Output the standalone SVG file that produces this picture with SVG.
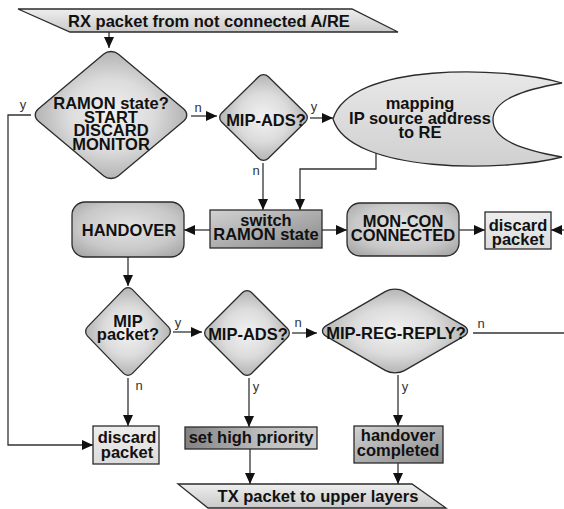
<svg xmlns="http://www.w3.org/2000/svg" width="564" height="509" viewBox="0 0 564 509">
  <style>
    .shape { stroke: #2b2b2b; stroke-width: 1.3; }
    .dia { stroke: #2b2b2b; stroke-width: 1.3; vector-effect: non-scaling-stroke; fill: url(#gDia); }
    .t { font-family: "Liberation Sans", Arial, sans-serif; font-weight: bold; font-size: 16.5px; fill: #111; text-anchor: middle; }
    .lbl { font-family: "Liberation Sans", Arial, sans-serif; font-size: 13px; fill: #333; text-anchor: middle; }
    .wire { fill: none; stroke: #333; stroke-width: 1.3; }
    .arr { marker-end: url(#ah); }
  </style>
  <defs>
    <marker id="ah" markerUnits="userSpaceOnUse" markerWidth="11" markerHeight="10" refX="11" refY="5" orient="auto">
      <path d="M0,0 L11,5 L0,10 z" fill="#111"/>
    </marker>
    <!-- diamonds: light centre fading to mid grey at the corners -->
    <radialGradient id="gDia" cx="0.5" cy="0.5" r="0.75">
      <stop offset="0" stop-color="#f2f2f2"/>
      <stop offset="0.5" stop-color="#dcdcdc"/>
      <stop offset="0.75" stop-color="#c2c2c2"/>
      <stop offset="1" stop-color="#acacac"/>
    </radialGradient>
    <linearGradient id="gBanner" x1="0" y1="0" x2="0" y2="1">
      <stop offset="0" stop-color="#eeeeee"/>
      <stop offset="1" stop-color="#c9c9c9"/>
    </linearGradient>
    <radialGradient id="gRound" cx="0.5" cy="0.45" r="0.72">
      <stop offset="0" stop-color="#e4e4e4"/>
      <stop offset="0.6" stop-color="#c8c8c8"/>
      <stop offset="1" stop-color="#a0a0a0"/>
    </radialGradient>
    <linearGradient id="gDark" x1="0" y1="0" x2="1" y2="1">
      <stop offset="0" stop-color="#d2d2d2"/>
      <stop offset="1" stop-color="#8a8a8a"/>
    </linearGradient>
    <linearGradient id="gDarkL" x1="0" y1="0" x2="1" y2="0">
      <stop offset="0" stop-color="#828282"/>
      <stop offset="0.6" stop-color="#c0c0c0"/>
      <stop offset="1" stop-color="#cbcbcb"/>
    </linearGradient>
    <linearGradient id="gLight" x1="0" y1="0" x2="0" y2="1">
      <stop offset="0" stop-color="#ededed"/>
      <stop offset="1" stop-color="#dcdcdc"/>
    </linearGradient>
    <linearGradient id="gMap" x1="0" y1="0" x2="0" y2="1">
      <stop offset="0" stop-color="#e8e8e8"/>
      <stop offset="1" stop-color="#d0d0d0"/>
    </linearGradient>
  </defs>

  <!-- connectors -->
  <g id="connectors">
    <path class="wire arr" d="M109,32 V48"/>
    <path class="wire arr" d="M191,116 H217"/>
    <path class="wire arr" d="M310,118 H333"/>
    <path class="wire arr" d="M263,163 V210"/>
    <path class="wire arr" d="M376,151 V169 H300 V210"/>
    <path class="wire arr" d="M210,230 H184"/>
    <path class="wire arr" d="M322,230 H347"/>
    <path class="wire arr" d="M459,230 H485"/>
    <path class="wire arr" d="M564,230 H551"/>
    <path class="wire arr" d="M31,115 H8 V445 H93"/>
    <path class="wire arr" d="M128,257 V286"/>
    <path class="wire arr" d="M173,332 H202"/>
    <path class="wire arr" d="M292,333 H317"/>
    <path class="wire" d="M473,333 H564"/>
    <path class="wire arr" d="M128,378 V426"/>
    <path class="wire arr" d="M249,378 V427"/>
    <path class="wire arr" d="M398,375 V426"/>
    <path class="wire arr" d="M250,449 V484"/>
    <path class="wire arr" d="M398,463 V484"/>
    <text class="lbl" x="23" y="109">y</text>
    <text class="lbl" x="198" y="112">n</text>
    <text class="lbl" x="314" y="111">y</text>
    <text class="lbl" x="256" y="175">n</text>
    <text class="lbl" x="178" y="327">y</text>
    <text class="lbl" x="298" y="327">n</text>
    <text class="lbl" x="481" y="328">n</text>
    <text class="lbl" x="139" y="390">n</text>
    <text class="lbl" x="256" y="391">y</text>
    <text class="lbl" x="405" y="391">y</text>
  </g>

  <g id="rx-banner">
    <polygon class="shape" fill="url(#gBanner)" points="18,9 352,9 398,32 70,32"/>
    <text class="t" x="209" y="27">RX packet from not connected A/RE</text>
  </g>

  <g id="ramon-state">
    <rect class="dia" x="-50" y="-50" width="100" height="100" rx="9" transform="translate(111,115) scale(1.131,0.948) rotate(45)"/>
    <text class="t" x="111" y="109">RAMON state?</text>
    <text class="t" x="111" y="122.5">START</text>
    <text class="t" x="111" y="136">DISCARD</text>
    <text class="t" x="111" y="149.5">MONITOR</text>
  </g>

  <g id="mip-ads-1">
    <rect class="dia" x="-50" y="-50" width="100" height="100" rx="10" transform="translate(263.5,117.5) scale(0.658,0.644) rotate(45)"/>
    <text class="t" x="266" y="126">MIP-ADS?</text>
  </g>

  <g id="mapping">
    <path class="shape" fill="url(#gMap)" d="M562,83 C505,66 350,62 333,119 C350,174 505,172 562,157 C522,150 493,140 493,120 C493,100 522,90 562,83 Z"/>
    <text class="t" x="420" y="109">mapping</text>
    <text class="t" x="420" y="124">IP source address</text>
    <text class="t" x="420" y="138">to RE</text>
  </g>

  <g id="switch-ramon">
    <rect class="shape" fill="url(#gDark)" x="210" y="210" width="112" height="38"/>
    <text class="t" x="266" y="226">switch</text>
    <text class="t" x="266" y="240">RAMON state</text>
  </g>

  <g id="handover">
    <rect class="shape" fill="url(#gRound)" x="72" y="202" width="112" height="55" rx="13"/>
    <text class="t" x="129" y="236">HANDOVER</text>
  </g>

  <g id="mon-con">
    <rect class="shape" fill="url(#gRound)" x="347" y="203" width="112" height="53" rx="13"/>
    <text class="t" x="403" y="227">MON-CON</text>
    <text class="t" x="403" y="241">CONNECTED</text>
  </g>

  <g id="discard-1">
    <rect class="shape" fill="url(#gLight)" x="485" y="212" width="66" height="37"/>
    <text class="t" x="518" y="231">discard</text>
    <text class="t" x="518" y="245">packet</text>
  </g>

  <g id="mip-packet">
    <rect class="dia" x="-50" y="-50" width="100" height="100" rx="10" transform="translate(128,331.5) scale(0.636,0.658) rotate(45)"/>
    <text class="t" x="128" y="327">MIP</text>
    <text class="t" x="128" y="340">packet?</text>
  </g>

  <g id="mip-ads-2">
    <rect class="dia" x="-50" y="-50" width="100" height="100" rx="10" transform="translate(247,333) scale(0.636,0.636) rotate(45)"/>
    <text class="t" x="248" y="340">MIP-ADS?</text>
  </g>

  <g id="mip-reg-reply">
    <rect class="dia" x="-50" y="-50" width="100" height="100" rx="12" transform="translate(395,331) scale(1.103,0.636) rotate(45)"/>
    <text class="t" x="396" y="339">MIP-REG-REPLY?</text>
  </g>

  <g id="discard-2">
    <rect class="shape" fill="url(#gLight)" x="93" y="426" width="66" height="38"/>
    <text class="t" x="127" y="443">discard</text>
    <text class="t" x="127" y="458">packet</text>
  </g>

  <g id="set-priority">
    <rect class="shape" fill="url(#gDarkL)" x="185" y="427" width="132" height="22"/>
    <text class="t" x="251" y="443">set high priority</text>
  </g>

  <g id="handover-completed">
    <rect class="shape" fill="url(#gDark)" x="354" y="426" width="89" height="37"/>
    <text class="t" x="398" y="441">handover</text>
    <text class="t" x="398" y="456">completed</text>
  </g>

  <g id="tx-banner">
    <polygon class="shape" fill="url(#gBanner)" points="178,484 412,484 446,508 208,508"/>
    <text class="t" x="318" y="502">TX packet to upper layers</text>
  </g>
</svg>
